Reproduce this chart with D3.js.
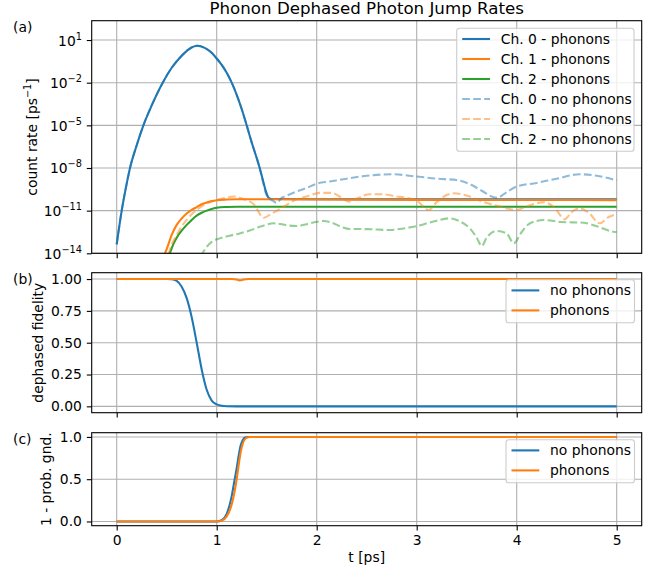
<!DOCTYPE html>
<html><head><meta charset="utf-8">
<script src="https://cdn.jsdelivr.net/npm/d3@7"></script>
<style>
html,body{margin:0;padding:0;background:#fff;}
text{font-family:"DejaVu Sans",sans-serif;}
</style></head>
<body><div id="chart"></div>
<script>
// ---------- DATA ----------
// Panel (a): count rates, stored as log10 exponents
const ch0PhononsT = [0,0.05,0.1,0.133,0.2,0.267,0.35,0.46,0.55,0.65,0.72,0.807,0.88,0.95,1.0,1.05,1.1,1.15,1.2,1.25,1.3,1.35,1.4,1.43,1.46,1.49,1.52,1.55,2,3,4,5];
const ch0PhononsExp = [-13.37,-11.0,-9.1,-8.0,-6.4,-5.0,-3.6,-2.0,-0.95,-0.1,0.35,0.6,0.45,0.1,-0.3,-0.75,-1.3,-2.0,-2.85,-3.85,-5.0,-6.2,-7.3,-8.0,-8.8,-9.6,-10.1,-10.18,-10.2,-10.2,-10.2,-10.2];

const ch1PhononsT = [0.45,0.5,0.55,0.6,0.65,0.7,0.75,0.8,0.85,0.9,0.95,1.0,1.1,1.2,2,3,4,5];
const ch1PhononsExp = [-14.5,-13.7,-12.7,-12.0,-11.55,-11.2,-10.95,-10.75,-10.55,-10.42,-10.33,-10.27,-10.22,-10.2,-10.22,-10.24,-10.25,-10.26];

const ch2PhononsT = [0.48,0.53,0.57,0.6,0.65,0.7,0.75,0.8,0.85,0.9,0.95,1.0,1.1,1.2,2,3,4,5];
const ch2PhononsExp = [-14.6,-14.0,-13.3,-12.9,-12.4,-12.0,-11.65,-11.35,-11.15,-11.0,-10.88,-10.8,-10.74,-10.72,-10.72,-10.72,-10.72,-10.72];

const ch0NoPhononsT = [0,0.05,0.1,0.133,0.2,0.267,0.35,0.46,0.55,0.65,0.72,0.807,0.88,0.95,1.0,1.05,1.1,1.15,1.2,1.25,1.3,1.35,1.4,1.43,1.46,1.49,1.52,1.56,1.6,1.65,1.7,1.8,1.9,2.0,2.13,2.3,2.5,2.75,3.0,3.2,3.4,3.55,3.65,3.8,3.9,4.0,4.2,4.4,4.63,4.8,5.0];
const ch0NoPhononsExp = [-13.37,-11.0,-9.1,-8.0,-6.4,-5.0,-3.6,-2.0,-0.95,-0.1,0.35,0.6,0.45,0.1,-0.3,-0.75,-1.3,-2.0,-2.85,-3.85,-5.0,-6.2,-7.3,-8.0,-8.9,-9.75,-10.1,-10.3,-10.45,-10.1,-9.95,-9.65,-9.4,-9.1,-8.95,-8.75,-8.55,-8.44,-8.6,-8.75,-8.85,-9.2,-9.6,-10.1,-9.7,-9.3,-9.05,-8.75,-8.44,-8.55,-8.87];

const ch1NoPhononsT = [0.47,0.5,0.55,0.6,0.65,0.7,0.75,0.8,0.85,0.9,0.95,1.0,1.1,1.17,1.25,1.37,1.47,1.55,1.63,1.72,1.8,1.9,2.03,2.15,2.25,2.32,2.4,2.53,2.65,2.8,2.9,3.0,3.12,3.2,3.3,3.37,3.53,3.65,3.8,4.0,4.1,4.27,4.38,4.48,4.55,4.63,4.72,4.83,4.92,5.0];
const ch1NoPhononsExp = [-14.8,-14.4,-13.4,-12.7,-12.1,-11.65,-11.25,-10.95,-10.7,-10.5,-10.35,-10.25,-10.08,-10.0,-10.15,-10.55,-11.5,-11.2,-10.9,-10.5,-10.2,-10.0,-9.75,-9.75,-10.1,-10.37,-10.15,-9.85,-9.85,-10.0,-10.1,-10.3,-10.95,-10.4,-9.9,-9.78,-10.0,-10.35,-10.65,-10.95,-10.7,-10.41,-10.8,-11.6,-11.1,-10.84,-11.15,-11.89,-11.45,-11.26];

const ch2NoPhononsT = [0.84,0.9,0.95,1.03,1.13,1.23,1.33,1.43,1.5,1.57,1.65,1.72,1.8,1.9,2.0,2.07,2.15,2.25,2.33,2.5,2.73,2.87,3.0,3.15,3.33,3.43,3.53,3.6,3.65,3.7,3.8,3.9,3.97,4.05,4.13,4.27,4.45,4.67,4.8,4.97,5.0];
const ch2NoPhononsExp = [-14.2,-13.55,-13.2,-12.95,-12.76,-12.6,-12.4,-12.13,-11.98,-11.89,-11.95,-12.05,-12.08,-11.95,-11.78,-11.73,-11.85,-12.15,-12.29,-12.3,-12.36,-12.25,-12.08,-11.8,-11.54,-11.75,-12.24,-12.9,-13.49,-12.9,-12.43,-12.6,-13.3,-12.5,-11.9,-11.66,-11.8,-11.85,-12.1,-12.48,-12.5];

// Panel (b): dephased fidelity
const fidNoPhononsT = [0,0.5,0.55,0.6,0.65,0.7,0.75,0.8,0.85,0.9,0.95,1.0,1.05,1.1,1.2,2,3,4,5];
const fidNoPhonons  = [1,1,0.998,0.985,0.94,0.85,0.7,0.5,0.29,0.13,0.045,0.015,0.004,0.001,0,0,0,0,0];
const fidPhononsT = [0,1.0,1.15,1.2,1.23,1.27,1.32,2,3,4,5];
const fidPhonons  = [1,1,1,0.996,0.99,0.996,1,1,1,1,1];

// Panel (c): 1 - prob. gnd.
const excNoPhononsT = [0,1.0,1.05,1.1,1.15,1.18,1.2,1.22,1.24,1.26,1.28,1.31,2,3,4,5];
const excNoPhonons  = [0,0,0.015,0.09,0.3,0.5,0.63,0.78,0.9,0.96,0.99,1,1,1,1,1];
const excPhononsT = [0,1.0,1.05,1.1,1.15,1.18,1.2,1.22,1.24,1.26,1.28,1.3,1.33,2,3,4,5];
const excPhonons  = [0,0,0.01,0.06,0.2,0.36,0.5,0.67,0.82,0.92,0.97,0.99,1,1,1,1,1];

// Ticks and labels
const xTicks = [0,1,2,3,4,5];
const aTickExps = [1,-2,-5,-8,-11,-14];
const bTicks = [0,0.25,0.5,0.75,1];
const cTicks = [0,0.5,1];
const legendA = ["Ch. 0 - phonons","Ch. 1 - phonons","Ch. 2 - phonons","Ch. 0 - no phonons","Ch. 1 - no phonons","Ch. 2 - no phonons"];
const legendBC = ["no phonons","phonons"];

// ---------- LAYOUT ----------
const W = 662, H = 572;
const L = 91.7, R = 641.7;
const FS = 13.89;
const C0 = "#1f77b4", C1 = "#ff7f0e", C2 = "#2ca02c";
const LW = 2.08;
const dash = "7.7,3.3";

const svg = d3.select("#chart").append("svg").attr("width", W).attr("height", H)
  .style("font-family", '"DejaVu Sans",sans-serif');

const x = d3.scaleLinear().domain([-0.25, 5.25]).range([L, R]);

const panels = {
  a: {top: 20.7, bottom: 253.3},
  b: {top: 272.7, bottom: 412.7},
  c: {top: 432.7, bottom: 525.7}
};
const ya = d3.scaleLog().domain([1e-14, Math.pow(10, 2.36)]).range([panels.a.bottom, panels.a.top]);
const yb = d3.scaleLinear().domain([-0.05, 1.05]).range([panels.b.bottom, panels.b.top]);
const yc = d3.scaleLinear().domain([-0.05, 1.05]).range([panels.c.bottom, panels.c.top]);

function clip(id, p) {
  svg.append("clipPath").attr("id", id).append("rect")
    .attr("x", L).attr("y", p.top).attr("width", R - L).attr("height", p.bottom - p.top);
}
clip("clipA", panels.a); clip("clipB", panels.b); clip("clipC", panels.c);

function grid(p, yScale, yvals) {
  const g = svg.append("g");
  g.selectAll(".gx").data(xTicks).join("line")
    .attr("x1", d => x(d)).attr("x2", d => x(d)).attr("y1", p.top).attr("y2", p.bottom)
    .attr("stroke", "#b0b0b0").attr("stroke-width", 1.1);
  g.selectAll(".gy").data(yvals).join("line")
    .attr("x1", L).attr("x2", R).attr("y1", d => yScale(d)).attr("y2", d => yScale(d))
    .attr("stroke", "#b0b0b0").attr("stroke-width", 1.1);
}
grid(panels.a, ya, aTickExps.map(e => Math.pow(10, e)));
grid(panels.b, yb, bTicks);
grid(panels.c, yc, cTicks);

function drawLine(clipId, yScale, ts, vs, color, dashed, isLog) {
  const pts = ts.map((t, i) => [t, isLog ? Math.pow(10, vs[i]) : vs[i]]);
  const line = d3.line().x(d => x(d[0])).y(d => yScale(d[1])).curve(d3.curveMonotoneX);
  svg.append("path").attr("clip-path", `url(#${clipId})`)
    .attr("d", line(pts)).attr("fill", "none").attr("stroke", color)
    .attr("stroke-width", LW).attr("stroke-opacity", dashed ? 0.5 : 1)
    .attr("stroke-dasharray", dashed ? dash : null)
    .attr("stroke-linejoin", "round").attr("stroke-linecap", dashed ? "butt" : "butt");
}
// Panel a
drawLine("clipA", ya, ch0PhononsT, ch0PhononsExp, C0, false, true);
drawLine("clipA", ya, ch1PhononsT, ch1PhononsExp, C1, false, true);
drawLine("clipA", ya, ch2PhononsT, ch2PhononsExp, C2, false, true);
drawLine("clipA", ya, ch0NoPhononsT, ch0NoPhononsExp, C0, true, true);
drawLine("clipA", ya, ch1NoPhononsT, ch1NoPhononsExp, C1, true, true);
drawLine("clipA", ya, ch2NoPhononsT, ch2NoPhononsExp, C2, true, true);
// Panel b
drawLine("clipB", yb, fidNoPhononsT, fidNoPhonons, C0, false, false);
drawLine("clipB", yb, fidPhononsT, fidPhonons, C1, false, false);
// Panel c
drawLine("clipC", yc, excNoPhononsT, excNoPhonons, C0, false, false);
drawLine("clipC", yc, excPhononsT, excPhonons, C1, false, false);

// Axes
function axes(p, yScale, yvals, yfmt, showX) {
  const gx = svg.append("g").attr("transform", `translate(0,${p.bottom})`)
    .call(d3.axisBottom(x).tickValues(xTicks).tickSize(4.9).tickPadding(4.9)
      .tickFormat(showX ? d3.format("d") : () => ""));
  const gy = svg.append("g").attr("transform", `translate(${L},0)`)
    .call(d3.axisLeft(yScale).tickValues(yvals).tickSize(4.9).tickPadding(4.9).tickFormat(yfmt));
  [gx, gy].forEach(g => {
    g.select(".domain").remove();
    g.selectAll("line").attr("stroke", "#000").attr("stroke-width", 1.1);
    g.selectAll("text").attr("font-size", FS).attr("fill", "#000")
      .attr("font-family", '"DejaVu Sans",sans-serif');
  });
  svg.append("rect").attr("x", L).attr("y", p.top).attr("width", R - L).attr("height", p.bottom - p.top)
    .attr("fill", "none").attr("stroke", "#000").attr("stroke-width", 1.1);
  return gy;
}
const gyA = axes(panels.a, ya, aTickExps.map(e => Math.pow(10, e)), () => "", false);
// superscript tick labels for the log axis
gyA.selectAll(".tick").each(function(d) {
  const e = Math.round(Math.log10(d));
  const t = d3.select(this).select("text");
  t.text(null).attr("dy", null).attr("y", 5);
  t.append("tspan").text("10");
  t.append("tspan").attr("font-size", FS * 0.7).attr("dy", -6).text(e < 0 ? "\u2212" + (-e) : String(e));
});
axes(panels.b, yb, bTicks, d3.format(".2f"), false);
axes(panels.c, yc, cTicks, d3.format(".1f"), true);

// Title
svg.append("text").attr("x", (L + R) / 2).attr("y", 14).attr("text-anchor", "middle")
  .attr("font-size", 16.67).text("Phonon Dephased Photon Jump Rates");

// Panel letters
[["(a)", panels.a.top], ["(b)", panels.b.top], ["(c)", panels.c.top]].forEach(([s, top]) => {
  svg.append("text").attr("x", 13).attr("y", top + 11).attr("font-size", FS).text(s);
});

// Y labels
function ylabel(cx, cy, build) {
  const t = svg.append("text").attr("transform", `translate(${cx},${cy}) rotate(-90)`)
    .attr("text-anchor", "middle").attr("font-size", FS);
  build(t);
}
ylabel(36.5, (panels.a.top + panels.a.bottom) / 2, t => {
  t.append("tspan").text("count rate [ps");
  t.append("tspan").attr("font-size", FS * 0.7).attr("dy", -6).text("\u22121");
  t.append("tspan").attr("dy", 6).text("]");
});
ylabel(43, (panels.b.top + panels.b.bottom) / 2, t => t.text("dephased fidelity"));
ylabel(51, (panels.c.top + panels.c.bottom) / 2, t => t.text("1 - prob. gnd."));

// X label
svg.append("text").attr("x", (L + R) / 2).attr("y", 562).attr("text-anchor", "middle")
  .attr("font-size", FS).text("t [ps]");

// Legends
function legend(x0, y0, w, items) {
  const rowH = 20;
  const h = items.length * rowH + 3;
  const g = svg.append("g");
  g.append("rect").attr("x", x0).attr("y", y0).attr("width", w).attr("height", h)
    .attr("rx", 2.8).attr("fill", "#fff").attr("fill-opacity", 0.8)
    .attr("stroke", "#cccccc").attr("stroke-width", 1.1);
  items.forEach((it, i) => {
    const cy = y0 + 10.7 + i * rowH;
    g.append("line").attr("x1", x0 + 5.5).attr("x2", x0 + 33.3).attr("y1", cy).attr("y2", cy)
      .attr("stroke", it.color).attr("stroke-width", LW)
      .attr("stroke-opacity", it.dashed ? 0.5 : 1).attr("stroke-dasharray", it.dashed ? dash : null);
    g.append("text").attr("x", x0 + 44).attr("y", cy + 5).attr("font-size", FS).text(it.label);
  });
}
legend(456.7, 28.3, 177.3, legendA.map((l, i) => ({label: l, color: [C0, C1, C2][i % 3], dashed: i >= 3})));
legend(506, panels.b.top + 7, 128.5, legendBC.map((l, i) => ({label: l, color: [C0, C1][i], dashed: false})));
legend(506, panels.c.top + 7, 128.5, legendBC.map((l, i) => ({label: l, color: [C0, C1][i], dashed: false})));
</script>
</body></html>
